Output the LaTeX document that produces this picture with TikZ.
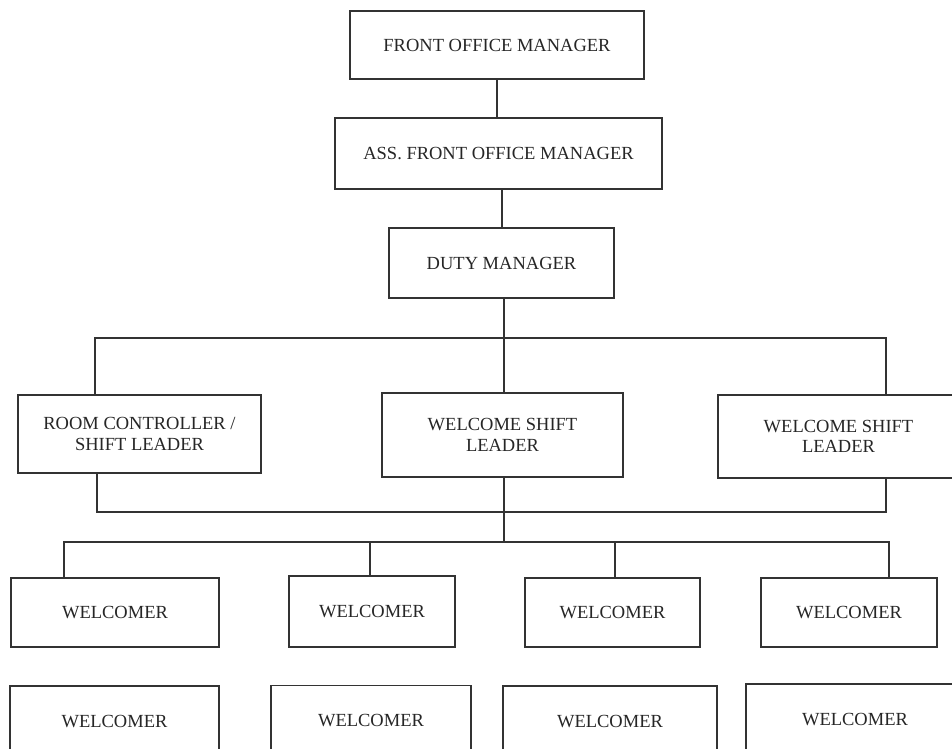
\documentclass[tikz,border=0pt]{standalone}
\usepackage{fontspec}
\setmainfont{Liberation Serif}
\usepackage{tikz}
\usetikzlibrary{positioning, calc}

\begin{document}
\begin{tikzpicture}[x=1pt, y=-1pt,
    line width=1.3pt, draw=black!80,
    box/.style={draw=black!80, line width=1.3pt, rectangle, inner sep=0pt,
        align=center, text=black!85,
        font=\fontsize{18.5}{20.5}\selectfont},
    link/.style={draw=black!80, line width=1.3pt}]
    \useasboundingbox (0,0) rectangle (952,748);
    \clip (0,0) rectangle (952,748);

    % Management chain
    \node[box, minimum width=294, minimum height=68] (fom) at (497,45) {FRONT OFFICE MANAGER};
    \node[box, minimum width=327, minimum height=71] (afom) at (498.5,153.5) {ASS. FRONT OFFICE MANAGER};
    \node[box, minimum width=225, minimum height=70] (duty) at (501.5,263) {DUTY MANAGER};

    % Shift leaders
    \node[box, minimum width=243, minimum height=78] (rc) at (139.5,434) {ROOM CONTROLLER /\\SHIFT LEADER};
    \node[box, minimum width=241, minimum height=84] (wsl) at (502.5,435) {WELCOME SHIFT\\LEADER};
    \node[box, minimum width=241, minimum height=83] (wsr) at (838.5,436.5) {WELCOME SHIFT\\LEADER};

    % Welcomers, first row
    \node[box, minimum width=208, minimum height=69] (w1) at (115,612.5) {WELCOMER};
    \node[box, minimum width=166, minimum height=71] (w2) at (372,611.5) {WELCOMER};
    \node[box, minimum width=175, minimum height=69] (w3) at (612.5,612.5) {WELCOMER};
    \node[box, minimum width=176, minimum height=69] (w4) at (849,612.5) {WELCOMER};

    % Welcomers, second row
    \node[box, minimum width=209, minimum height=70] (w5) at (114.5,721) {WELCOMER};
    \node[box, minimum width=200, minimum height=70] (w6) at (371,720.5) {WELCOMER};
    \node[box, minimum width=214, minimum height=70] (w7) at (610,721) {WELCOMER};
    \node[box, minimum width=218, minimum height=70] (w8) at (855,719) {WELCOMER};

    % Bus coordinates
    \coordinate (chainA) at (502,200);
    \coordinate (topM) at (504,338);
    \coordinate (topL) at (95,338);
    \coordinate (topR) at (886,338);
    \coordinate (lowL) at (97,512);
    \coordinate (lowR) at (886,512);
    \coordinate (welM) at (504,542);
    \coordinate (welL) at (64,542);
    \coordinate (welR) at (889,542);

    % Connect management chain
    \draw[link] (fom.south) -- (fom.south |- afom.north);
    \draw[link] (chainA |- afom.south) -- (chainA |- duty.north);
    \draw[link] (topM |- duty.south) -- (topM);

    % Upper bus to shift leaders
    \draw[link] (topL |- rc.north) -- (topL) -- (topR) -- (topR |- wsr.north);
    \draw[link] (topM) -- (topM |- wsl.north);

    % Lower bus from shift leaders
    \draw[link] (lowL |- rc.south) -- (lowL) -- (lowR) -- (lowR |- wsr.south);
    \draw[link] (welM |- wsl.south) -- (welM);

    % Bus to welcomers
    \draw[link] (welL |- w1.north) -- (welL) -- (welR) -- (welR |- w4.north);
    \draw[link] (370,542) -- (370,0 |- w2.north);
    \draw[link] (615,542) -- (615,0 |- w3.north);
\end{tikzpicture}
\end{document}
